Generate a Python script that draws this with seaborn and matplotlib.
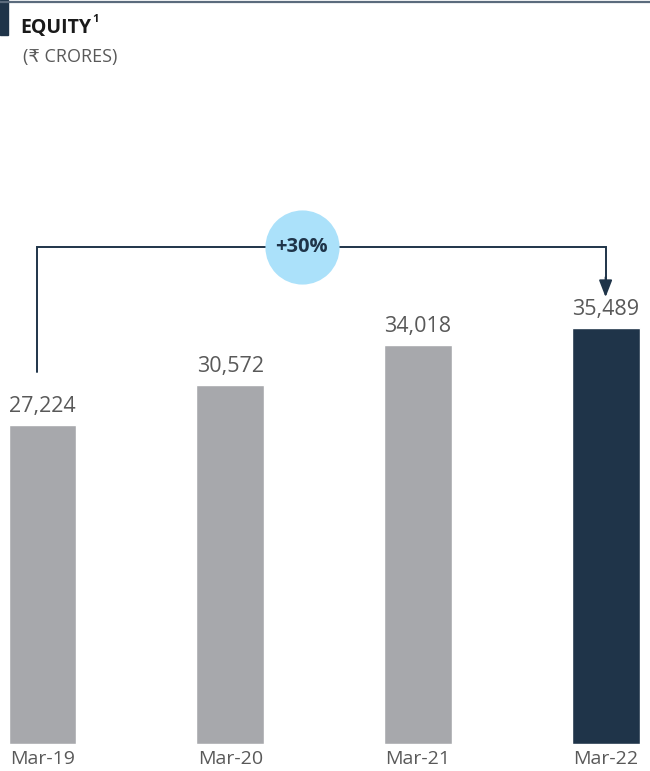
import matplotlib
matplotlib.use("Agg")
import matplotlib.pyplot as plt
import seaborn as sns
import pandas as pd
from matplotlib.patches import Rectangle
from matplotlib.lines import Line2D

categories = ["Mar-19", "Mar-20", "Mar-21", "Mar-22"]
values = [27224, 30572, 34018, 35489]
value_labels = ["27,224", "30,572", "34,018", "35,489"]
growth_label = "+30%"
title = "EQUITY"
title_note = "1"
subtitle = "(\u20b9 CRORES)"

GRAY = "#A7A8AC"
NAVY = "#1F3449"
TXT = "#595959"
BUBBLE = "#ABE1FA"

sns.set_theme(style="white")
plt.rcParams['font.family'] = ['Open Sans', 'DejaVu Sans']

df = pd.DataFrame({"period": categories, "equity": values})
palette = {c: (NAVY if i == len(categories) - 1 else GRAY) for i, c in enumerate(categories)}

fig = plt.figure(figsize=(6.5, 7.71), dpi=100)
ax = fig.add_axes([0, 27 / 771, 1, (744 - 80) / 771])

sns.barplot(data=df, x="period", y="equity", hue="period", palette=palette,
            width=0.362, dodge=False, legend=False, ax=ax, saturation=1)

px_per_unit_x = 187.7
ax.set_xlim(-42.5 / px_per_unit_x, (650 - 42.5) / px_per_unit_x)
ymax = 664 / 0.01173
ax.set_ylim(0, ymax)
for s in ax.spines.values():
    s.set_visible(False)
ax.set_yticks([])
ax.set_xlabel("")
ax.set_ylabel("")
ax.tick_params(axis="x", length=0, pad=4, labelsize=14, labelcolor=TXT)

for i, (v, lab) in enumerate(zip(values, value_labels)):
    ax.text(i, v + ymax * 0.012, lab, ha="center", va="bottom", fontsize=15.5, color=TXT)

# growth connector
y_line = (744 - 247) / 0.01173
x_left = -0.03
x_right = len(values) - 1
arrow_tip = values[-1] + ymax * 0.046
ax.plot([x_left, x_left, x_right, x_right],
        [values[0] + ymax * 0.079, y_line, y_line, arrow_tip + ymax * 0.02],
        color=NAVY, lw=1.4, solid_joinstyle="miter", zorder=3)
ax.annotate("", xy=(x_right, arrow_tip),
            xytext=(x_right, arrow_tip + ymax * 0.03),
            arrowprops=dict(arrowstyle="-|>,head_length=0.85,head_width=0.33",
                            color=NAVY, lw=1.4, shrinkA=0, shrinkB=0), zorder=4)
bx = 1.38
ax.scatter([bx], [y_line], s=2850, color=BUBBLE, zorder=5, linewidths=0)
ax.text(bx, y_line, growth_label, ha="center", va="center",
        fontsize=14.5, fontweight="bold", color=NAVY, zorder=6)

# header decorations
fig.add_artist(Line2D([0, 1], [1 - 1.5 / 771, 1 - 1.5 / 771], color="#5B6B7D", lw=1.6,
                      transform=fig.transFigure))
fig.add_artist(Rectangle((0, 1 - 35 / 771), 8 / 650, 35 / 771, color=NAVY,
                         transform=fig.transFigure))
t = fig.text(20 / 650, 1 - 33 / 771, title, fontsize=14, fontweight="bold", color="#1a1a1a",
             va="baseline", ha="left")
fig.canvas.draw()
bb = t.get_window_extent().transformed(fig.transFigure.inverted())
fig.text(bb.x1 + 1 / 650, 1 - 22 / 771, title_note, fontsize=8, fontweight="bold",
         color="#1a1a1a", va="baseline", ha="left")
fig.text(23 / 650, 1 - 62 / 771, subtitle, fontsize=13, color=TXT, va="baseline", ha="left")

fig.savefig("out.png", dpi=100)
